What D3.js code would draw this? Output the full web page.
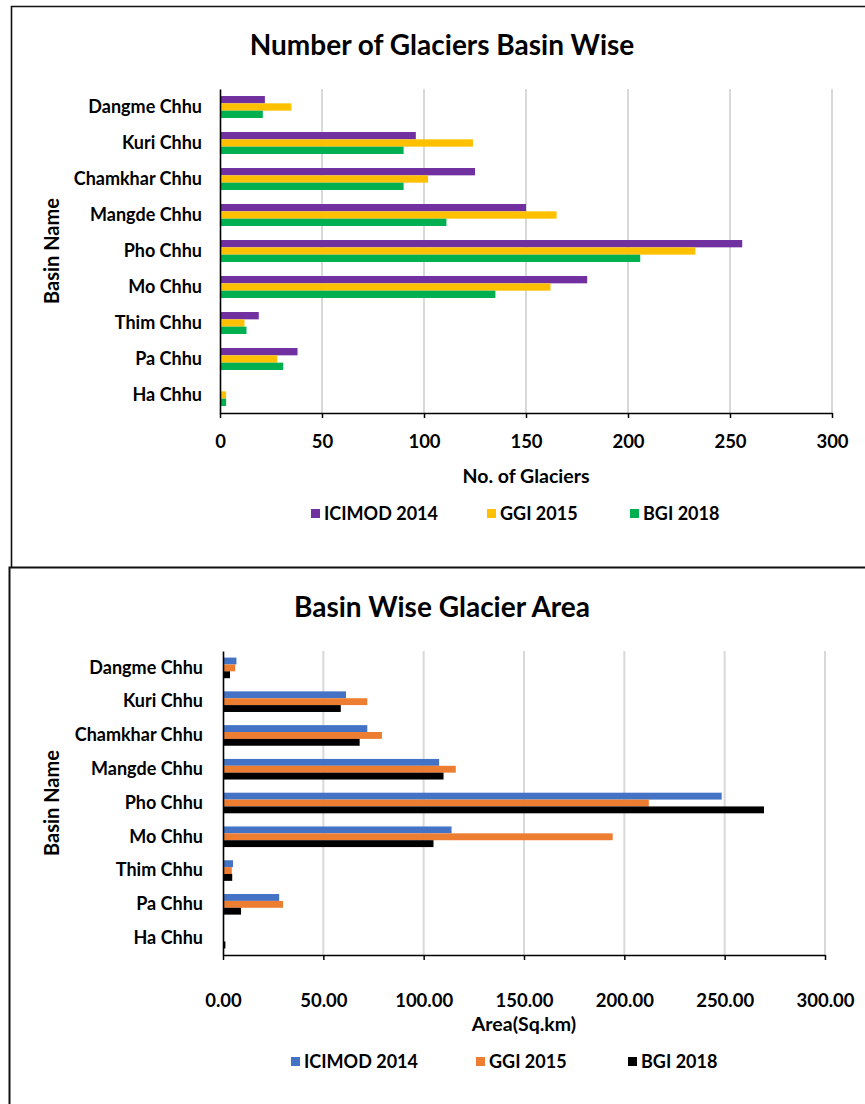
<!DOCTYPE html>
<html>
<head>
<meta charset="utf-8">
<script src="https://cdn.jsdelivr.net/npm/d3@7"></script>
<style>
  html, body { margin: 0; padding: 0; background: #fff; }
  svg { display: block; }
  text { font-family: Lato, "Noto Sans", sans-serif; font-weight: 700; fill: #000; }
</style>
</head>
<body>
<svg id="fig" width="865" height="1104"></svg>
<script>
// Basins, listed top to bottom
const basins = ["Dangme Chhu", "Kuri Chhu", "Chamkhar Chhu", "Mangde Chhu", "Pho Chhu",
                "Mo Chhu", "Thim Chhu", "Pa Chhu", "Ha Chhu"];
const inventories = ["ICIMOD 2014", "GGI 2015", "BGI 2018"];

// Number of glaciers per basin
const countICIMOD2014 = [22, 96, 125, 150, 256, 180, 19, 38, 0];
const countGGI2015    = [35, 124, 102, 165, 233, 162, 12, 28, 3];
const countBGI2018    = [21, 90, 90, 111, 206, 135, 13, 31, 3];

// Glacier area per basin (sq. km)
const areaICIMOD2014 = [6.7, 61.3, 71.9, 107.7, 248.5, 113.9, 5.0, 28.0, 0];
const areaGGI2015    = [6.1, 71.9, 79.2, 116.0, 212.2, 194.2, 4.4, 29.9, 0];
const areaBGI2018    = [3.5, 58.7, 68.1, 109.9, 269.6, 104.9, 4.6, 9.0, 1.2];

// Axis ticks
const countTicks = [0, 50, 100, 150, 200, 250, 300];
const areaTicks  = [0, 50, 100, 150, 200, 250, 300];

const countColors = ["#7030A0", "#FFC000", "#00B050"];
const areaColors  = ["#4472C4", "#ED7D31", "#000000"];

const svg = d3.select("#fig");

// Panel frames
svg.append("path")
  .attr("d", "M866,6.5 H11.5 V567")
  .attr("fill", "none").attr("stroke", "#111").attr("stroke-width", 1.6);
svg.append("path")
  .attr("d", "M9.5,1106 V567.5 H866")
  .attr("fill", "none").attr("stroke", "#111").attr("stroke-width", 2);

function drawPanel(cfg) {
  const g = svg.append("g");
  const series = [cfg.s0, cfg.s1, cfg.s2];
  const rows = basins.map((b, i) => ({ basin: b, values: series.map((s, k) => ({ key: inventories[k], v: s[i], k })) }));

  const x = d3.scaleLinear().domain([0, 300]).range([cfg.x0, cfg.x1]);
  const y = d3.scaleBand().domain(basins).range([cfg.top, cfg.bottom])
    .paddingInner(0.39).paddingOuter(0.195);
  const ySub = d3.scaleBand().domain(inventories).range([0, y.bandwidth()]);

  // Title
  g.append("text").attr("x", cfg.titleX).attr("y", cfg.titleY)
    .attr("text-anchor", "middle").style("font-size", "28px").text(cfg.title);

  // Vertical gridlines
  g.append("g").selectAll("line").data(cfg.ticks.filter(t => t > 0)).join("line")
    .attr("x1", d => x(d)).attr("x2", d => x(d))
    .attr("y1", cfg.top).attr("y2", cfg.bottom)
    .attr("stroke", "#d9d9d9").attr("stroke-width", 2);

  // Bars
  const groups = g.append("g").selectAll("g").data(rows).join("g")
    .attr("transform", d => `translate(0,${y(d.basin)})`);
  groups.selectAll("rect").data(d => d.values).join("rect")
    .attr("x", x(0))
    .attr("y", d => ySub(d.key))
    .attr("width", d => x(d.v) - x(0))
    .attr("height", ySub.bandwidth())
    .attr("fill", d => cfg.colors[d.k]);

  // Bottom axis
  const xAxis = g.append("g").attr("transform", `translate(0,${cfg.bottom})`)
    .call(d3.axisBottom(x).tickValues(cfg.ticks).tickSize(5).tickSizeOuter(0).tickFormat(cfg.fmt));
  xAxis.select(".domain").attr("stroke", "#000").attr("stroke-width", 1.6);
  xAxis.selectAll(".tick line").attr("stroke", "#000").attr("stroke-width", 1.5);
  xAxis.selectAll(".tick text").attr("y", cfg.tickLabelDy).attr("dy", 0)
    .style("font-size", "18.5px").style("fill", "#000");

  // Left axis
  const yAxis = g.append("g").attr("transform", `translate(${cfg.x0},0)`)
    .call(d3.axisLeft(y).tickSize(0).tickPadding(cfg.yPad));
  yAxis.select(".domain").attr("stroke", "#000").attr("stroke-width", 1.6);
  yAxis.selectAll(".tick text").style("font-size", "18px").style("fill", "#000");

  // Axis titles
  g.append("text").attr("x", (cfg.x0 + cfg.x1) / 2).attr("y", cfg.xTitleY)
    .attr("text-anchor", "middle").style("font-size", "19.5px").text(cfg.xTitle);
  g.append("text")
    .attr("transform", `translate(${cfg.yTitleX},${(cfg.top + cfg.bottom) / 2}) rotate(-90)`)
    .attr("text-anchor", "middle").style("font-size", "20px").text("Basin Name");

  // Legend
  const leg = g.append("g").selectAll("g").data(inventories).join("g")
    .attr("transform", (d, i) => `translate(${cfg.legendX[i]},${cfg.legendY})`);
  leg.append("rect").attr("x", 0).attr("y", -5).attr("width", 9).attr("height", 9)
    .attr("fill", (d, i) => cfg.colors[i]);
  leg.append("text").attr("x", 13).attr("y", 0).attr("dy", "0.35em")
    .style("font-size", "18px").text(d => d);
}

drawPanel({
  title: "Number of Glaciers Basin Wise", titleX: 442, titleY: 55,
  s0: countICIMOD2014, s1: countGGI2015, s2: countBGI2018,
  colors: countColors, ticks: countTicks, fmt: d3.format("d"),
  x0: 220, x1: 832, top: 89, bottom: 413,
  tickLabelDy: 35, yPad: 18, yTitleX: 59,
  xTitle: "No. of Glaciers", xTitleY: 483,
  legendX: [311, 487, 630], legendY: 514
});

drawPanel({
  title: "Basin Wise Glacier Area", titleX: 442, titleY: 617,
  s0: areaICIMOD2014, s1: areaGGI2015, s2: areaBGI2018,
  colors: areaColors, ticks: areaTicks, fmt: d3.format(".2f"),
  x0: 223, x1: 825, top: 651, bottom: 955,
  tickLabelDy: 52, yPad: 20, yTitleX: 59,
  xTitle: "Area(Sq.km)", xTitleY: 1031,
  legendX: [291, 476, 628], legendY: 1062
});
</script>
</body>
</html>
